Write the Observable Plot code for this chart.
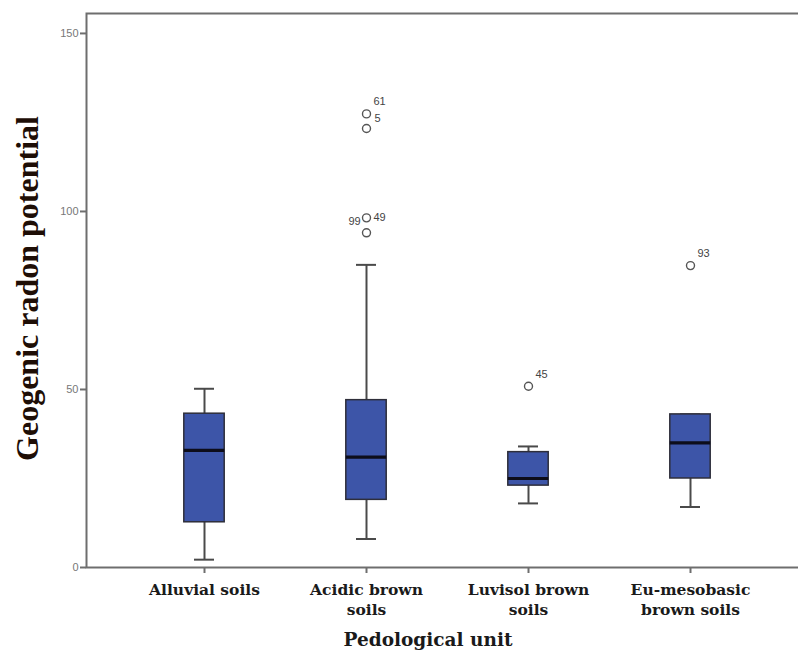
<!DOCTYPE html>
<html>
<head>
<meta charset="utf-8">
<script src="https://cdn.jsdelivr.net/npm/d3@7"></script>
<script src="https://cdn.jsdelivr.net/npm/@observablehq/plot@0.6"></script>
<style>
  html, body { margin: 0; padding: 0; background: #fff; overflow: hidden; width: 798px; height: 653px; }
  #chart svg { max-width: none !important; }
</style>
</head>
<body>
<div id="chart"></div>
<script>
// ---- data ----
const categories = ["Alluvial soils", "Acidic brown soils", "Luvisol brown soils", "Eu-mesobasic brown soils"];
const tickLabels = ["Alluvial soils", "Acidic brown\nsoils", "Luvisol brown\nsoils", "Eu-mesobasic\nbrown soils"];
const whiskerLow  = [2.2, 8.0, 18.0, 17.0];
const quartile1   = [12.7, 19.0, 23.0, 25.0];
const medians     = [32.9, 31.0, 25.0, 35.0];
const quartile3   = [43.2, 47.0, 32.4, 43.0];
const whiskerHigh = [50.2, 85.0, 34.0, 43.0];

const outlierUnit  = ["Acidic brown soils", "Acidic brown soils", "Acidic brown soils", "Acidic brown soils", "Luvisol brown soils", "Eu-mesobasic brown soils"];
const outlierValue = [127.4, 123.3, 98.2, 94.0, 50.9, 84.8];
const outlierCase  = ["61", "5", "49", "99", "45", "93"];

const yTicks = [0, 50, 100, 150];
const yMax = 155.6;

// ---- build tables ----
const boxes = categories.map((c, i) => ({
  unit: c, lo: whiskerLow[i], q1: quartile1[i], med: medians[i], q3: quartile3[i], hi: whiskerHigh[i]
}));
const outliers = outlierValue.map((v, i) => ({unit: outlierUnit[i], value: v, label: outlierCase[i]}));
const labelOf = new Map(categories.map((c, i) => [c, tickLabels[i]]));

const boxInset = 60.8;
const capInset = 71;
const serif = "'Liberation Serif', 'Times New Roman', serif";
const wideSerif = "'DejaVu Serif', serif";
const sans = "'Liberation Sans', Arial, sans-serif";

const chart = Plot.plot({
  width: 810,
  height: 653,
  marginLeft: 86,
  marginRight: 2,
  marginTop: 13,
  marginBottom: 86,
  style: {background: "#fff", fontFamily: sans, maxWidth: "none"},
  x: {type: "band", domain: categories, paddingInner: 0, paddingOuter: 0.22, align: 0.5, axis: null},
  y: {domain: [0, yMax], axis: null},
  marks: [
    // whiskers
    Plot.ruleX(boxes, {x: "unit", y1: "lo", y2: "q1", stroke: "#4a4a4a", strokeWidth: 2}),
    Plot.ruleX(boxes, {x: "unit", y1: "q3", y2: "hi", stroke: "#4a4a4a", strokeWidth: 2}),
    Plot.tickY(boxes, {x: "unit", y: "lo", stroke: "#4a4a4a", strokeWidth: 2, insetLeft: capInset, insetRight: capInset}),
    Plot.tickY(boxes, {x: "unit", y: "hi", stroke: "#4a4a4a", strokeWidth: 2, insetLeft: capInset, insetRight: capInset}),
    // boxes
    Plot.barY(boxes, {x: "unit", y1: "q1", y2: "q3", fill: "#3d55a8", stroke: "#2e2e3a", strokeWidth: 1.5, insetLeft: boxInset, insetRight: boxInset}),
    // medians
    Plot.tickY(boxes, {x: "unit", y: "med", stroke: "#0d0d1a", strokeWidth: 3.2, insetLeft: boxInset, insetRight: boxInset}),
    // outliers
    Plot.dot(outliers, {x: "unit", y: "value", r: 4, stroke: "#555", strokeWidth: 1.4, fill: "none"}),
    Plot.text(outliers.filter(d => ["61", "45", "93"].includes(d.label)), {x: "unit", y: "value", text: "label", dx: 13, dy: -12, fontSize: 11, fill: "#444", fontFamily: sans}),
    Plot.text(outliers.filter(d => d.label === "5"), {x: "unit", y: "value", text: "label", dx: 11, dy: -10, fontSize: 11, fill: "#444", fontFamily: sans}),
    Plot.text(outliers.filter(d => d.label === "49"), {x: "unit", y: "value", text: "label", dx: 13, dy: 0, fontSize: 11, fill: "#444", fontFamily: sans}),
    Plot.text(outliers.filter(d => d.label === "99"), {x: "unit", y: "value", text: "label", dx: -12, dy: -11, fontSize: 11, fill: "#444", fontFamily: sans}),
    // axes
    Plot.frame({stroke: "#6e6e6e", strokeWidth: 2}),
    Plot.axisY({ticks: yTicks, tickSize: 6, tickPadding: 2, stroke: "#6e6e6e", strokeWidth: 2, fontSize: 11, color: "#777", fill: "#777", fontFamily: sans, label: null}),
    Plot.axisX({tickSize: 6, tickPadding: 7, stroke: "#6e6e6e", strokeWidth: 2, tickFormat: d => labelOf.get(d),
      fontSize: 15.5, fontWeight: "bold", fontFamily: wideSerif, fill: "#1a1a1a", lineHeight: 1.3, label: null}),
    // axis titles
    Plot.text(["Pedological unit"], {frameAnchor: "bottom", lineAnchor: "middle", dx: -19.5, dy: 73, fontSize: 18.5, fontWeight: "bold", fontFamily: wideSerif, fill: "#1a1a1a"}),
    Plot.text(["Geogenic radon potential"], {frameAnchor: "left", textAnchor: "middle", lineAnchor: "middle", dx: -59, dy: -2, rotate: -90, fontSize: 32, fontWeight: "bold", fontFamily: serif, fill: "#1e0e06"})
  ]
});
document.getElementById("chart").appendChild(chart);
</script>
</body>
</html>
